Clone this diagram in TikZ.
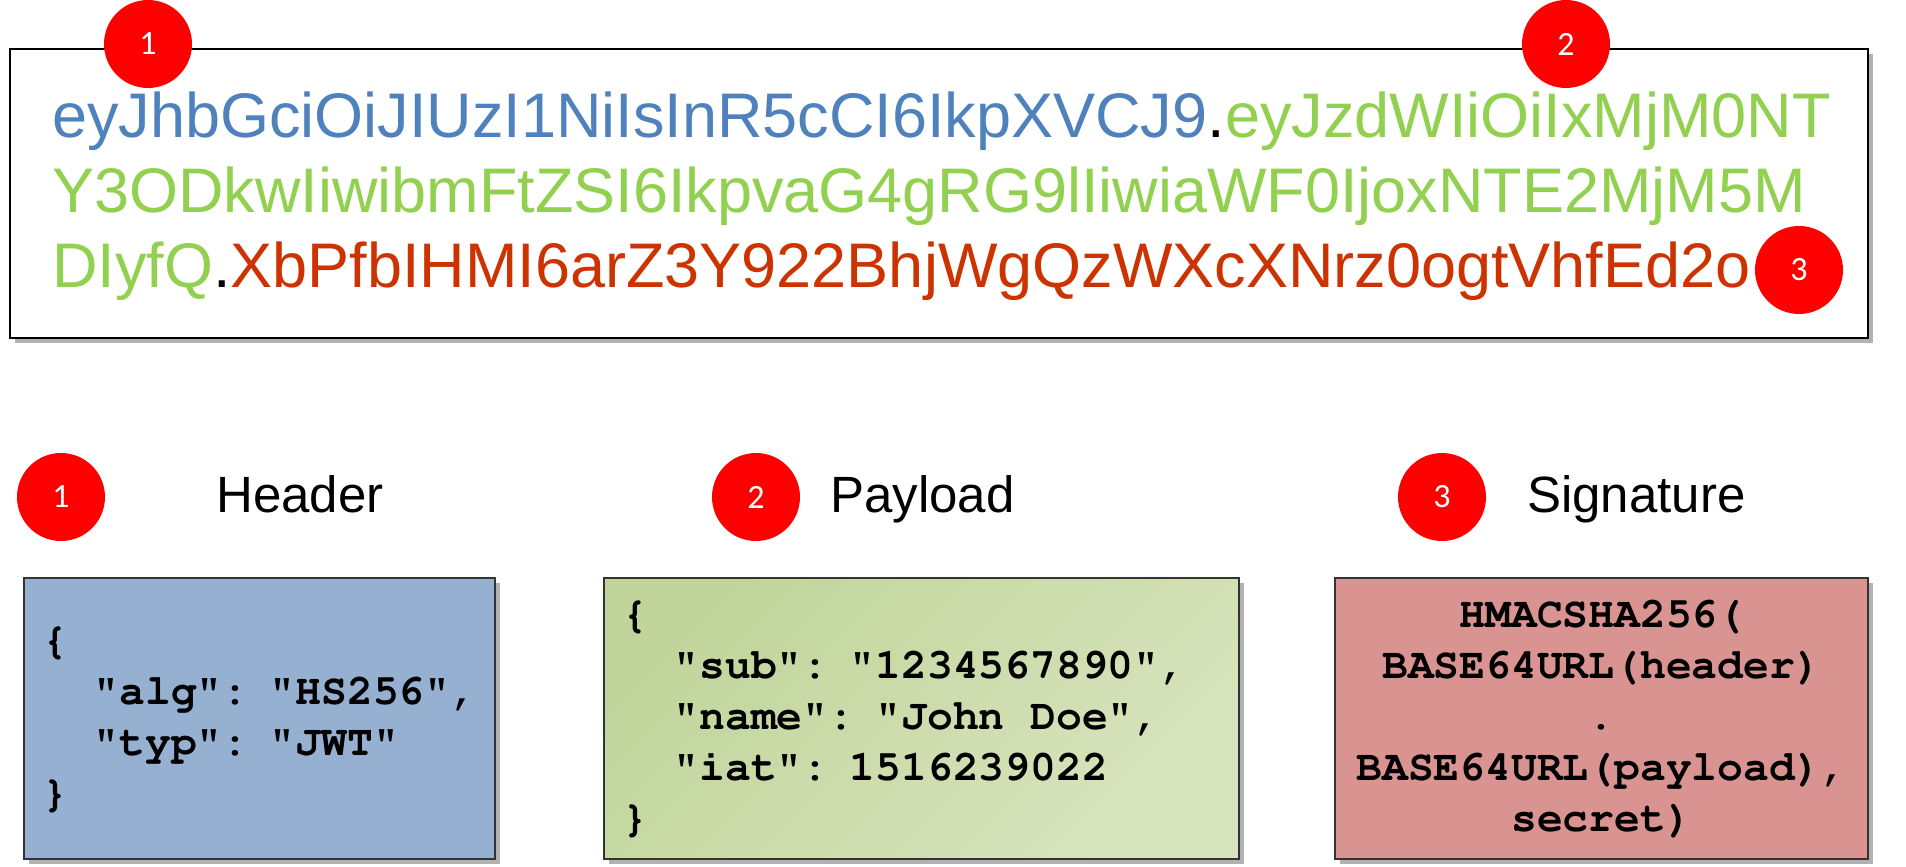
\documentclass[tikz,border=0pt]{standalone}
\usepackage[T1]{fontenc}
\usepackage{fontspec}
\setmainfont{Liberation Sans}
\newfontfamily\badgefont{Carlito}
\usetikzlibrary{shadows}

\definecolor{tokblue}{RGB}{79,129,189}
\definecolor{tokgreen}{RGB}{146,208,80}
\definecolor{tokred}{RGB}{204,51,0}
\definecolor{hdrblue}{RGB}{149,176,208}
\definecolor{pldgreen}{RGB}{193,213,155}
\definecolor{pldlight}{RGB}{216,228,190}
\definecolor{sigred}{RGB}{217,148,146}

\begin{document}
\begin{tikzpicture}[x=1pt,y=-1pt,
  badge/.style={circle,fill=red,text=white,minimum size=88pt,inner sep=0pt,
    font=\badgefont\fontsize{34}{34}\selectfont},
  tokline/.style={anchor=base west,inner sep=0pt,font=\fontsize{63}{75}\selectfont},
  title/.style={anchor=base west,inner sep=0pt,font=\fontsize{51}{60}\selectfont},
  softshadow/.style={drop shadow={shadow xshift=5pt,shadow yshift=-5pt,fill=black,opacity=.3}},
  codebox/.style={draw=black!80,line width=2.5pt,minimum height=281pt,inner xsep=18pt,
    font=\fontencoding{T1}\fontfamily{pcr}\fontseries{b}\fontsize{43}{51}\selectfont,
    execute at begin node={\spaceskip.6em\relax},softshadow}]
\fill[white] (0,0) rectangle (1906,867);

% the encoded token
\node[draw=black,line width=2.5pt,fill=white,minimum width=1858pt,minimum height=289pt,
  inner sep=0pt,softshadow] (jwt) at (939,193.5) {};
\node[tokline] (tok1) at (52,137) {\textcolor{tokblue}{eyJhbGciOiJIUzI1NiIsInR5cCI6IkpXVCJ9}.\textcolor{tokgreen}{eyJzdWIiOiIxMjM0NT}};
\node[tokline,text=tokgreen] (tok2) at (52,212) {Y3ODkwIiwibmFtZSI6IkpvaG4gRG9lIiwiaWF0IjoxNTE2MjM5M};
\node[tokline] (tok3) at (52,287) {\textcolor{tokgreen}{DIyfQ}.\textcolor{tokred}{XbPfbIHMI6arZ3Y922BhjWgQzWXcXNrz0ogtVhfEd2o}};
\node[badge] (t1) at (148,44) {1};
\node[badge] (t2) at (1566,44) {2};
\node[badge] (t3) at (1799,270) {3};

% the three parts
\node[badge] (p1) at (61,497) {1};
\node[badge] (p2) at (756,497) {2};
\node[badge] (p3) at (1442,497) {3};
\node[title] (hdr) at (216,512) {Header};
\node[title] (pld) at (830,512) {Payload};
\node[title] (sig) at (1527,512) {Signature};

\node[codebox,fill=hdrblue,text width=435pt,align=left] (hdrbox) at (259.5,718.5)
  {\{\\\hspace*{1.2em}"alg": "HS256",\\\hspace*{1.2em}"typ": "JWT"\\\}};
\node[codebox,top color=pldgreen,bottom color=pldlight,shading angle=45,text width=599pt,align=left] (pldbox) at (921.5,718.5)
  {\{\\\hspace*{1.2em}"sub": "1234567890",\\\hspace*{1.2em}"name": "John Doe",\\\hspace*{1.2em}"iat": 1516239022\\\}};
\node[codebox,fill=sigred,text width=497pt,align=center] (sigbox) at (1601.5,718.5)
  {HMACSHA256(\\BASE64URL(header)\\.\\BASE64URL(payload),\\secret)};
\end{tikzpicture}
\end{document}
